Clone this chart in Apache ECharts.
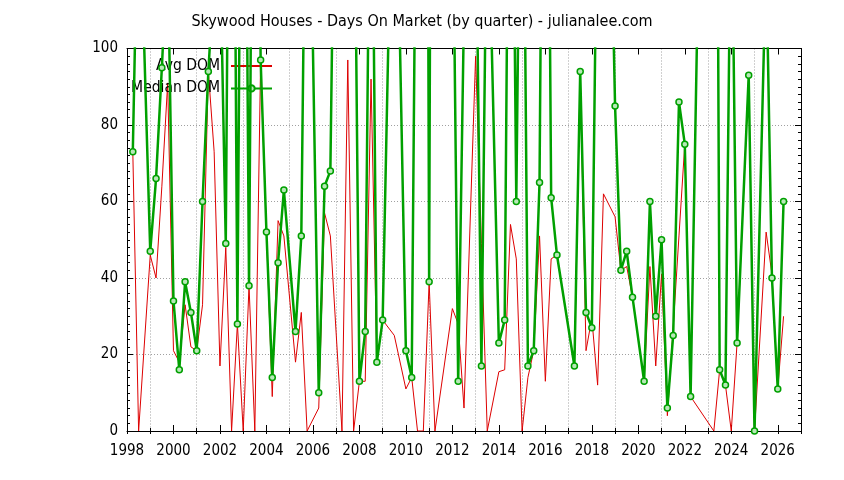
<!DOCTYPE html>
<html><head><meta charset="utf-8">
<script src="https://cdn.jsdelivr.net/npm/echarts@6/dist/echarts.min.js"></script>
<style>html,body{margin:0;padding:0;background:#fff}#chart{width:844px;height:480px}</style>
</head><body><div id="chart"></div>
<script>
// Quarter (decimal year) of each data row
const quarters = [
  1998.25, 1998.5, 1999.0, 1999.25, 1999.5, 1999.75, 2000.0, 2000.25, 2000.5, 2000.75,
  2001.0, 2001.25, 2001.5, 2001.75, 2002.0, 2002.25, 2002.5, 2002.75, 2003.0, 2003.25,
  2003.5, 2003.75, 2004.0, 2004.25, 2004.5, 2004.75, 2005.25, 2005.5, 2005.75, 2006.25,
  2006.5, 2006.75, 2007.25, 2007.5, 2007.75, 2008.0, 2008.25, 2008.5, 2008.75, 2009.0,
  2009.5, 2010.0, 2010.25, 2010.5, 2010.75, 2011.0, 2011.25, 2012.0, 2012.25, 2012.5,
  2013.0, 2013.25, 2013.5, 2014.0, 2014.25, 2014.5, 2014.75, 2015.0, 2015.25, 2015.5,
  2015.75, 2016.0, 2016.25, 2016.5, 2017.25, 2017.5, 2017.75, 2018.0, 2018.25, 2018.5,
  2019.0, 2019.25, 2019.5, 2019.75, 2020.25, 2020.5, 2020.75, 2021.0, 2021.25, 2021.5,
  2021.75, 2022.0, 2022.25, 2023.25, 2023.5, 2023.75, 2024.0, 2024.25, 2024.75, 2025.0,
  2025.5, 2025.75, 2026.0, 2026.25
];
const avgDom = [
  73, 0, 46, 40, 64, 91, 21, 18, 33, 22,
  21, 33, 94, 73, 17, 48, 0, 28, 0, 38,
  0, 97, 52, 9, 55, 51, 18, 31, 0, 6,
  57, 51, 0, 97, 0, 13, 13, 92, 18, 29,
  25, 11, 14, 0, 0, 39, 0, 32, 28, 6,
  98, 49, 0, 15.5, 16, 54, 45, 0, 14, 21,
  51, 13, 45, 46, 17, 94, 21, 29.5, 12, 62,
  56, 42, 43, 35, 13, 43, 17, 41, 4, 27,
  51, 75, 9, 0, 16, 12, 0, 23, 93, 0,
  52, 41, 11, 30
];
const medianDom = [
  73, 150, 47, 66, 95, 127, 34, 16, 39, 31,
  21, 60, 94, 120, 128, 49, 260, 28, 250, 38,
  250, 97, 52, 14, 44, 63, 26, 51, 190, 10,
  64, 68, 300, 250, 170, 13, 26, 180, 18, 29,
  178, 21, 14, 196, 500, 39, 500, 152, 13, 110,
  145, 17, 150, 23, 29, 220, 60, 200, 17, 21,
  65, 270, 61, 46, 17, 94, 31, 27, 154, 229,
  85, 42, 47, 35, 13, 60, 30, 50, 6, 25,
  86, 75, 9, 350, 16, 12, 150, 23, 93, 0,
  124, 40, 11, 60
];
const yearCategories = [];
for (let y = 1998; y <= 2027; y++) yearCategories.push(String(y));

const FONT = "'DejaVu Sans Condensed', 'Liberation Sans Narrow', 'DejaVu Sans', sans-serif";
const chart = echarts.init(document.getElementById('chart'), null, {renderer: 'canvas'});
const gridLine = {show: true, lineStyle: {color: '#a0a0a0', width: 1, type: [1, 2]}};
const isOdd = (i) => i % 2 === 1;

const baseValueX = {
  type: 'value', min: 1998, max: 2027, interval: 2,
  axisLine: {show: true, onZero: false, lineStyle: {color: '#000', width: 1}},
  axisTick: {show: true, inside: true, length: 6, lineStyle: {color: '#000'}},
  splitLine: {show: false}
};
const baseCatX = {
  type: 'category', data: yearCategories, boundaryGap: false,
  axisLine: {show: false},
  axisLabel: {show: false},
  axisTick: {show: true, inside: true, length: 3, interval: 0, lineStyle: {color: '#000'}}
};
const baseY = {
  type: 'value', min: 0, max: 100, interval: 20,
  axisLine: {show: true, lineStyle: {color: '#000', width: 1}},
  axisTick: {show: true, inside: true, length: 6, lineStyle: {color: '#000'}},
  minorTick: {show: true, splitNumber: 10, length: 3, lineStyle: {color: '#000'}}
};

chart.setOption({
  animation: false,
  backgroundColor: '#fff',
  title: {
    text: 'Skywood Houses - Days On Market (by quarter) - julianalee.com',
    left: 'center', top: 9,
    textStyle: {fontFamily: FONT, fontSize: 16, fontWeight: 'normal', color: '#000'}
  },
  legend: {
    orient: 'vertical', align: 'right', right: 571, top: 58, padding: 0,
    itemWidth: 41, itemHeight: 8, itemGap: 6.4,
    textStyle: {fontFamily: FONT, fontSize: 15.5, color: '#000', lineHeight: 14, padding: [0, 6, 0, 0]},
    data: [{name: 'Avg DOM', itemStyle: {opacity: 0}}, {name: 'Median DOM'}]
  },
  grid: {left: 127, right: 43, top: 48.5, bottom: 49, containLabel: false},
  xAxis: [
    Object.assign({}, baseValueX, {
      position: 'bottom',
      axisLabel: {show: true, color: '#000', fontFamily: FONT, fontSize: 15, margin: 13,
        showMaxLabel: false, formatter: (v) => String(v)}
    }),
    Object.assign({}, baseValueX, {position: 'top', axisLabel: {show: false}}),
    Object.assign({}, baseCatX, {
      position: 'bottom',
      splitLine: Object.assign({}, gridLine, {interval: isOdd})
    }),
    Object.assign({}, baseCatX, {position: 'top', splitLine: {show: false}})
  ],
  yAxis: [
    Object.assign({}, baseY, {
      position: 'left',
      axisLabel: {show: true, color: '#000', fontFamily: FONT, fontSize: 15, margin: 9},
      splitLine: gridLine
    }),
    Object.assign({}, baseY, {position: 'right', axisLabel: {show: false}, splitLine: {show: false}})
  ],
  series: [
    {
      name: 'Avg DOM', type: 'line', xAxisIndex: 0, yAxisIndex: 0,
      data: quarters.map((q, i) => [q, avgDom[i]]),
      symbol: 'none', clip: true,
      lineStyle: {color: '#dd0000', width: 1},
      itemStyle: {color: '#dd0000'},
      z: 3
    },
    {
      name: 'Median DOM', type: 'line', xAxisIndex: 0, yAxisIndex: 0,
      data: quarters.map((q, i) => [q, medianDom[i]]),
      symbol: 'circle', symbolSize: 6, clip: true,
      lineStyle: {color: '#00a000', width: 2.5},
      itemStyle: {color: '#b8e8b8', borderColor: '#00a000', borderWidth: 1.5},
      z: 4
    }
  ]
});
</script></body></html>
